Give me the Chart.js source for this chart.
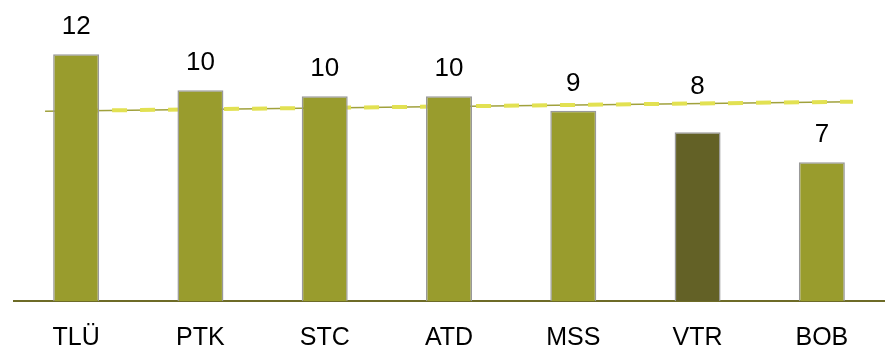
<!DOCTYPE html>
<html>
<head>
<meta charset="utf-8">
<script src="https://cdn.jsdelivr.net/npm/chart.js@4/dist/chart.umd.min.js"></script>
<style>
    html, body { margin: 0; padding: 0; background: #fff; }
    #wrap { width: 885px; height: 347px; }
</style>
</head>
<body>
<div id="wrap"><canvas id="grafico"></canvas></div>
<script>
const categorias = ['TLÜ', 'PTK', 'STC', 'ATD', 'MSS', 'VTR', 'BOB'];
const valores = [12.0, 10.25, 9.95, 9.95, 9.25, 8.2, 6.75];
const destaque = 'VTR';
// trend line: start and end of the reference line
const tendenciaX = [-0.25, 6.25];
const tendenciaY = [9.23, 9.69];

const corBarra = '#999c2d';
const corDestaque = '#636126';

function valorTendencia(x) {
    const t = (x - tendenciaX[0]) / (tendenciaX[1] - tendenciaX[0]);
    return tendenciaY[0] + t * (tendenciaY[1] - tendenciaY[0]);
}

// value labels above each bar; a label that would sit on the trend line goes above it
const rotulosValores = {
    id: 'rotulosValores',
    afterDatasetsDraw(chart) {
        const ctx = chart.ctx;
        const meta = chart.getDatasetMeta(0);
        const escalaY = chart.scales.y;
        ctx.save();
        ctx.font = '26px "Liberation Sans", Arial, sans-serif';
        ctx.fillStyle = '#000';
        ctx.textAlign = 'center';
        ctx.textBaseline = 'alphabetic';
        meta.data.forEach((barra, i) => {
            let base = barra.y - 20;
            const linhaY = escalaY.getPixelForValue(valorTendencia(i));
            if (base + 4 > linhaY && base - 22 < linhaY) {
                base = linhaY - 9;
            }
            ctx.fillText(Math.round(valores[i]).toString(), barra.x, base);
        });
        ctx.restore();
    }
};

const ctx = document.getElementById('grafico').getContext('2d');
new Chart(ctx, {
    type: 'bar',
    data: {
        labels: categorias,
        datasets: [
            {
                type: 'bar',
                data: valores,
                backgroundColor: categorias.map(c => c === destaque ? corDestaque : corBarra),
                borderColor: '#999999',
                borderWidth: 1.5,
                barPercentage: 0.37,
                categoryPercentage: 1,
                grouped: false,
                order: 0
            },
            {
                type: 'line',
                xAxisID: 'x2',
                data: tendenciaX.map((x, i) => ({ x: x, y: tendenciaY[i] })),
                borderColor: '#e2e152',
                borderWidth: 4,
                borderDash: [15, 13],
                borderDashOffset: 17,
                borderCapStyle: 'butt',
                pointRadius: 0,
                fill: false,
                order: 1
            },
            {
                type: 'line',
                xAxisID: 'x2',
                data: tendenciaX.map((x, i) => ({ x: x, y: tendenciaY[i] })),
                borderColor: '#a0a13c',
                borderWidth: 1.5,
                pointRadius: 0,
                fill: false,
                order: 2
            }
        ]
    },
    options: {
        responsive: true,
        maintainAspectRatio: false,
        animation: false,
        layout: { padding: { top: 13, left: 14, right: 1, bottom: 0 } },
        plugins: { legend: { display: false }, tooltip: { enabled: false } },
        scales: {
            x: {
                grid: { display: false, drawTicks: false },
                border: { color: '#6d6b27', width: 2 },
                ticks: {
                    color: '#000',
                    padding: 22,
                    maxRotation: 0,
                    font: { family: '"Liberation Sans", Arial, sans-serif', size: 25 }
                },
                afterFit(scale) { scale.height = 46; }
            },
            x2: {
                type: 'linear',
                display: false,
                offset: false,
                grid: { offset: false },
                min: -0.5,
                max: 6.5
            },
            y: {
                display: false,
                min: 0,
                max: 14
            }
        }
    },
    plugins: [rotulosValores]
});
</script>
</body>
</html>
